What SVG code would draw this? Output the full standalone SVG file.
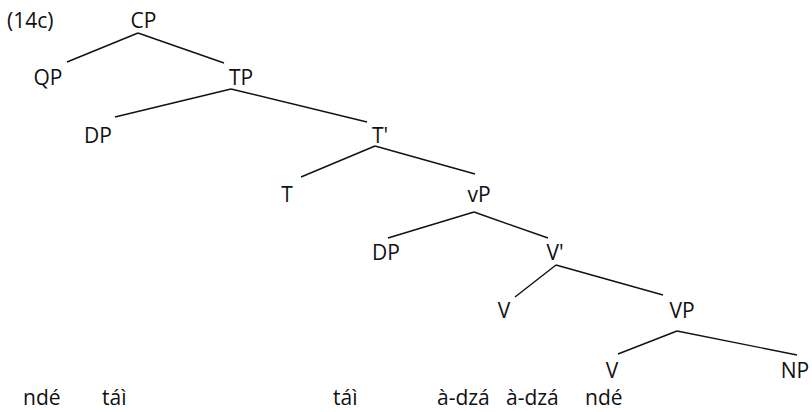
<svg xmlns="http://www.w3.org/2000/svg" width="812" height="412" viewBox="0 0 812 412">
<style>
text{font-family:"Open Sans","Noto Sans",sans-serif;font-size:21px;fill:#111}
.n text{text-anchor:middle}
#edges line{stroke:#111;stroke-width:1.4}
</style>
<rect width="812" height="412" fill="#fff"/>
<text x="7" y="28">(14c)</text>
<g id="edges">
<line x1="138" y1="33" x2="67" y2="62"/>
<line x1="138" y1="33" x2="224" y2="63"/>
<line x1="231" y1="89" x2="115" y2="117"/>
<line x1="231" y1="89" x2="367" y2="122"/>
<line x1="375" y1="146" x2="301" y2="177"/>
<line x1="375" y1="146" x2="475" y2="174"/>
<line x1="474" y1="212" x2="388" y2="238"/>
<line x1="474" y1="212" x2="548" y2="238"/>
<line x1="556" y1="265" x2="515" y2="297"/>
<line x1="556" y1="265" x2="663" y2="295"/>
<line x1="677" y1="331" x2="618" y2="354"/>
<line x1="677" y1="331" x2="797" y2="355"/>
</g>
<g class="n" id="CP"><text x="143.5" y="28">CP</text></g>
<g class="n" id="QP"><text x="48" y="85">QP</text></g>
<g class="n" id="TP"><text x="241" y="85">TP</text></g>
<g class="n" id="DP1"><text x="98" y="143">DP</text></g>
<g class="n" id="Tbar"><text x="380" y="143">T'</text></g>
<g class="n" id="T"><text x="287" y="202">T</text></g>
<g class="n" id="vP"><text x="479" y="202">vP</text></g>
<g class="n" id="DP2"><text x="386" y="260">DP</text></g>
<g class="n" id="Vbar"><text x="555" y="260">V'</text></g>
<g class="n" id="V1"><text x="504" y="318">V</text></g>
<g class="n" id="VP"><text x="682" y="318">VP</text></g>
<g class="n" id="V2"><text x="612" y="378">V</text></g>
<g class="n" id="NP"><text x="795" y="378">NP</text></g>
<g id="words">
<text x="23" y="405">ndé</text>
<text x="102" y="405">táì</text>
<text x="333" y="405">táì</text>
<text x="437" y="405">à-dzá</text>
<text x="506" y="405">à-dzá</text>
<text x="585" y="405">ndé</text>
</g>
</svg>
